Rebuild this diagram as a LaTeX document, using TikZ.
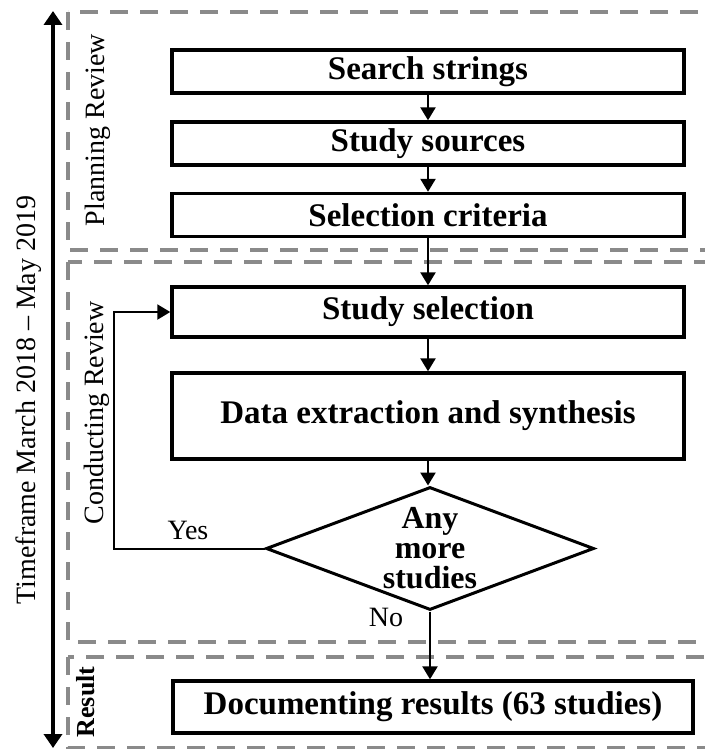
\documentclass[tikz,border=0pt]{standalone}
\usepackage{fontspec}
\setmainfont{Liberation Serif}
\usepackage{tikz}
\usetikzlibrary{arrows.meta,shapes.geometric}
\definecolor{slrgrey}{HTML}{8A8A8A}
\tikzset{
  box/.style={draw=black,line width=1.7pt,align=center,minimum width=256pt,
              minimum height=21.5pt,inner sep=0pt,font=\fontsize{16.5}{18}\selectfont\bfseries},
  dec/.style={draw=black,line width=1.5pt,diamond,aspect=2.67,align=center,
              minimum width=164pt,minimum height=61.5pt,inner sep=0pt,
              font=\fontsize{16}{15}\selectfont\bfseries},
  phase/.style={draw=slrgrey,line width=2pt,dash pattern=on 9pt off 6pt},
  ar/.style={-{Triangle[length=6.5pt,width=7.5pt]},line width=1.2pt},
  back/.style={-{Triangle[length=6.5pt,width=7.5pt]},line width=1pt},
  time/.style={{Triangle[length=7pt,width=9pt]}-{Triangle[length=7pt,width=9pt]},line width=1.8pt},
  lab/.style={font=\fontsize{14}{15}\selectfont,inner sep=0pt},
}

\begin{document}
\begin{tikzpicture}[x=0.5pt,y=-0.5pt]
    \useasboundingbox (0,0) rectangle (705,749);
    \clip (0,0) rectangle (705,749);
    % review phases
    \draw[phase] (68,12) rectangle (760,250);
    \draw[phase] (68,262) rectangle (760,642);
    \draw[phase] (68,657) rectangle (760,748);
    \node[lab,rotate=90] (plan) at (98,130) {Planning Review};
    \node[lab,rotate=90] (cond) at (97,413) {Conducting Review};
    \node[lab,rotate=90,font=\fontsize{13}{14}\selectfont\bfseries] (res) at (86,702) {Result};
    % timeline
    \coordinate (ttop) at (53,11);
    \coordinate (tbot) at (53,748);
    \draw[time] (ttop) -- (tbot);
    \node[lab,rotate=90] (tf) at (29,400) {Timeframe March 2018 – May 2019};
    % steps
    \node[box] (search)  at (428,71.5) {Search strings};
    \node[box] (sources) at (428,143.5) {Study sources};
    \node[box] (crit)    at (428,215) {Selection criteria};
    \node[box,minimum height=25pt] (sel)  at (428,312) {Study selection};
    \node[box,minimum height=43pt] (data) at (428,416) {Data extraction and synthesis};
    \node[dec] (more) at (430,548.5) {Any\\more\\studies};
    \node[box,minimum width=260pt,minimum height=26pt] (doc) at (433,707)
         {Documenting results (63 studies)};
    \draw[ar] (search)--(sources);
    \draw[ar] (sources)--(crit);
    \draw[ar] (crit)--(sel);
    \draw[ar] (sel)--(data);
    \draw[ar] (data.south)--(data.south|-more.north);
    \draw[ar] (more.south)--(more.south|-doc.north);
    \draw[back] (more.west) -- ++(-151,0) |- (sel.west);
    \node[lab] (yes) at (188,530) {Yes};
    \node[lab] (no)  at (386,617) {No};
\end{tikzpicture}
\end{document}
